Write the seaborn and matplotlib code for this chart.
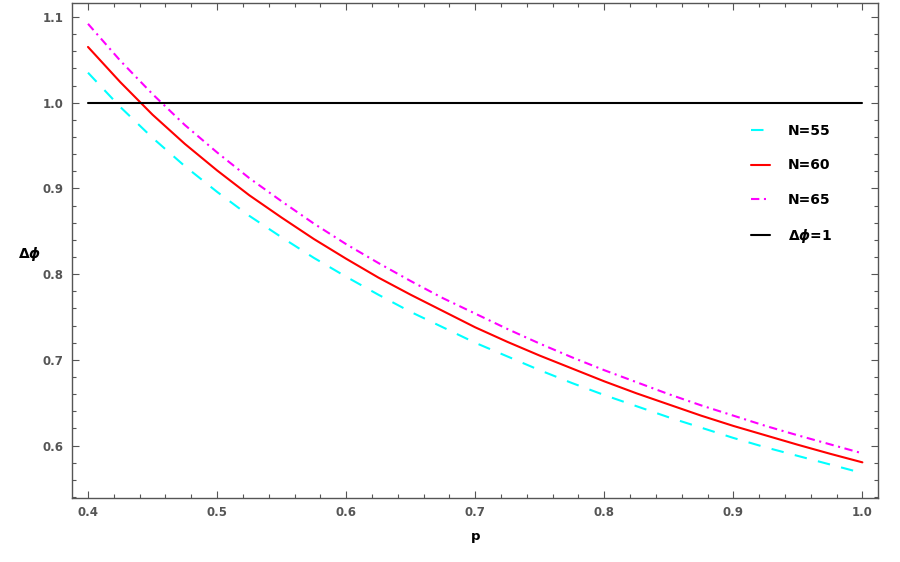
import numpy as np
import pandas as pd
import matplotlib
matplotlib.use("Agg")
import matplotlib.pyplot as plt
import seaborn as sns
from matplotlib.ticker import MultipleLocator

# ---- data ----
p = [0.40, 0.425, 0.45, 0.475, 0.50, 0.525, 0.55, 0.575, 0.60, 0.625, 0.65, 0.675, 0.70,
     0.725, 0.75, 0.775, 0.80, 0.825, 0.85, 0.875, 0.90, 0.925, 0.95, 0.975, 1.00]
n55 = [1.035, 0.995, 0.959, 0.926, 0.896, 0.868, 0.843, 0.819, 0.797, 0.776, 0.756, 0.738, 0.720,
       0.704, 0.688, 0.673, 0.659, 0.646, 0.633, 0.621, 0.609, 0.598, 0.588, 0.578, 0.568]
n60 = [1.065, 1.024, 0.986, 0.952, 0.921, 0.892, 0.866, 0.841, 0.818, 0.796, 0.776, 0.757, 0.738,
       0.721, 0.705, 0.690, 0.675, 0.661, 0.648, 0.635, 0.623, 0.612, 0.601, 0.5905, 0.5805]
n65 = [1.092, 1.049, 1.010, 0.974, 0.942, 0.912, 0.885, 0.859, 0.835, 0.813, 0.792, 0.772, 0.754,
       0.736, 0.719, 0.703, 0.688, 0.674, 0.660, 0.647, 0.635, 0.623, 0.612, 0.6015, 0.591]
ref_p = [0.40, 1.00]
ref_v = [1.0, 1.0]
labels = ["N=55", "N=60", "N=65", r"$\mathbf{\Delta}\boldsymbol{\phi}$=1"]
x_ticks = [0.4, 0.5, 0.6, 0.7, 0.8, 0.9, 1.0]
y_ticks = [0.6, 0.7, 0.8, 0.9, 1.0, 1.1]

sns.set_style("ticks")
plt.rcParams['font.family'] = ['DejaVu Sans']

fig = plt.figure(figsize=(9, 5.62), dpi=100)
ax = fig.add_axes([0.080, 0.114, 0.896, 0.881])

df = pd.DataFrame({"p": p * 3,
                   "v": n55 + n60 + n65,
                   "s": [labels[0]] * len(p) + [labels[1]] * len(p) + [labels[2]] * len(p)})
styles = {
    labels[0]: dict(color="#00ffff", dashes=(6, 5.5)),
    labels[1]: dict(color="#ff0000", dashes=None),
    labels[2]: dict(color="#ff00ff", dashes=(4, 2.2, 1, 2.2)),
}
for lab in labels[:3]:
    sub = df[df["s"] == lab]
    st = styles[lab]
    sns.lineplot(data=sub, x="p", y="v", ax=ax, color=st["color"], lw=1.5,
                 label=lab, legend=False, estimator=None, sort=True)
    l = ax.lines[-1]
    if st["dashes"] is not None:
        l.set_dashes(st["dashes"])
ref = pd.DataFrame({"p": ref_p, "v": ref_v})
sns.lineplot(data=ref, x="p", y="v", ax=ax, color="black", lw=1.5, label=labels[3], legend=False)

ax.set_xlim(0.3876, 1.0124)
ax.set_ylim(0.539, 1.1165)
ax.set_xticks(x_ticks)
ax.set_yticks(y_ticks)
ax.xaxis.set_minor_locator(MultipleLocator(0.02))
ax.yaxis.set_minor_locator(MultipleLocator(0.02))
ax.set_xticklabels([f"{t:.1f}" for t in x_ticks])
ax.set_yticklabels([f"{t:.1f}" for t in y_ticks])

gray = "#555555"
for sp in ax.spines.values():
    sp.set_visible(True)
    sp.set_color(gray)
    sp.set_linewidth(1.0)
ax.tick_params(which="both", direction="in", top=True, right=True, color=gray,
               labelcolor=gray, labelsize=8.5, width=0.8)
ax.tick_params(which="major", length=5, pad=6)
ax.tick_params(which="minor", length=3)
for t in ax.get_xticklabels() + ax.get_yticklabels():
    t.set_fontweight("bold")

ax.set_xlabel("p", fontsize=9.5, fontweight="bold", color="black", labelpad=8)
ax.set_ylabel(r"$\mathbf{\Delta}\boldsymbol{\phi}$", fontsize=10, fontweight="bold",
              color="black", rotation=0)
ax.yaxis.set_label_coords(-0.053, 0.475)

leg = ax.legend(loc="upper left", bbox_to_anchor=(0.826, 0.78), frameon=False,
                handlelength=1.4, handletextpad=1.3, labelspacing=1.45,
                prop={"size": 10, "weight": "bold"}, labelcolor="black")

fig.savefig("out.png", dpi=100)
